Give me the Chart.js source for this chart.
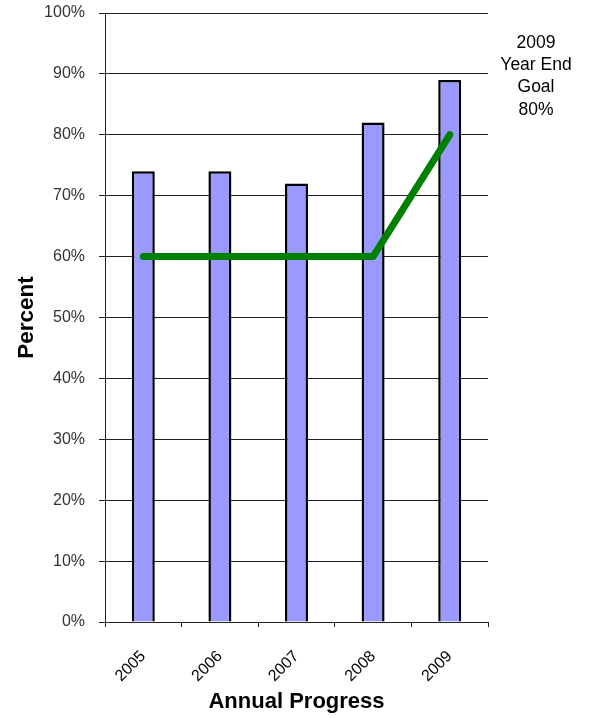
<!DOCTYPE html>
<html>
<head>
<meta charset="utf-8">
<script src="https://cdn.jsdelivr.net/npm/chart.js@4.4.1/dist/chart.umd.min.js"></script>
<style>
  html, body { margin: 0; padding: 0; background: #fff; }
  #wrap { width: 589px; height: 718px; position: relative; }
</style>
</head>
<body>
<div id="wrap"><canvas id="chart"></canvas></div>
<script>
"use strict";

// data
var years = ['2005', '2006', '2007', '2008', '2009'];
var progress = [74, 74, 72, 82, 89];
var goal = [60, 60, 60, 60, 80];
var yTicks = [0, 10, 20, 30, 40, 50, 60, 70, 80, 90, 100];
var goalNote = ['2009', 'Year End', 'Goal', '80%'];

var FONT = 'Arial, "Liberation Sans", sans-serif';

// text box at the top right, outside the plot
var notePlugin = {
    id: 'goalNote',
    afterDraw: function (chart) {
        var ctx = chart.ctx;
        ctx.save();
        ctx.font = '17.5px ' + FONT;
        ctx.fillStyle = '#000';
        ctx.textAlign = 'center';
        ctx.textBaseline = 'middle';
        goalNote.forEach(function (line, i) {
            ctx.fillText(line, 536, 43 + i * 22.3);
        });
        ctx.restore();
    }
};

new Chart(document.getElementById('chart').getContext('2d'), {
    type: 'bar',
    data: {
        labels: years,
        datasets: [{
            type: 'line',
            data: goal,
            borderColor: '#008000',
            borderWidth: 7,
            borderCapStyle: 'round',
            borderJoinStyle: 'round',
            pointRadius: 0,
            tension: 0,
            order: 0
        }, {
            type: 'bar',
            data: progress,
            backgroundColor: '#9999FF',
            borderColor: '#000',
            borderWidth: 2.5,
            barPercentage: 0.3,
            categoryPercentage: 1,
            order: 1
        }]
    },
    options: {
        responsive: true,
        maintainAspectRatio: false,
        animation: false,
        layout: { padding: { top: 13, right: 101, left: 0, bottom: 0 } },
        plugins: {
            legend: { display: false },
            tooltip: { enabled: false }
        },
        scales: {
            x: {
                grid: {
                    drawOnChartArea: false,
                    drawTicks: true,
                    tickLength: 5,
                    color: '#222'
                },
                border: { display: true, color: '#222', width: 1 },
                ticks: {
                    color: '#000',
                    font: { family: FONT, size: 16 },
                    maxRotation: 45,
                    minRotation: 45,
                    padding: 20
                },
                title: {
                    display: true,
                    text: 'Annual Progress',
                    color: '#000',
                    font: { family: FONT, size: 22, weight: 'bold' },
                    padding: { top: 0, bottom: 3 }
                },
                afterFit: function (scale) {
                    scale.height = 96;
                    scale.paddingLeft = 0;
                    scale.paddingRight = 0;
                }
            },
            y: {
                min: 0,
                max: 100,
                afterBuildTicks: function (scale) {
                    scale.ticks = yTicks.map(function (v) { return { value: v }; });
                },
                grid: {
                    color: '#222',
                    lineWidth: 1,
                    tickLength: 6
                },
                border: { display: true, color: '#222', width: 1 },
                ticks: {
                    color: '#333',
                    font: { family: FONT, size: 16 },
                    padding: 14,
                    callback: function (v) { return v + '%'; }
                },
                title: {
                    display: true,
                    text: 'Percent',
                    color: '#000',
                    font: { family: FONT, size: 22.5, weight: 'bold' },
                    padding: { top: 13, bottom: 0 }
                },
                afterFit: function (scale) {
                    scale.width = 105;
                    scale.paddingTop = 0;
                    scale.paddingBottom = 0;
                }
            }
        }
    },
    plugins: [notePlugin]
});
</script>
</body>
</html>
